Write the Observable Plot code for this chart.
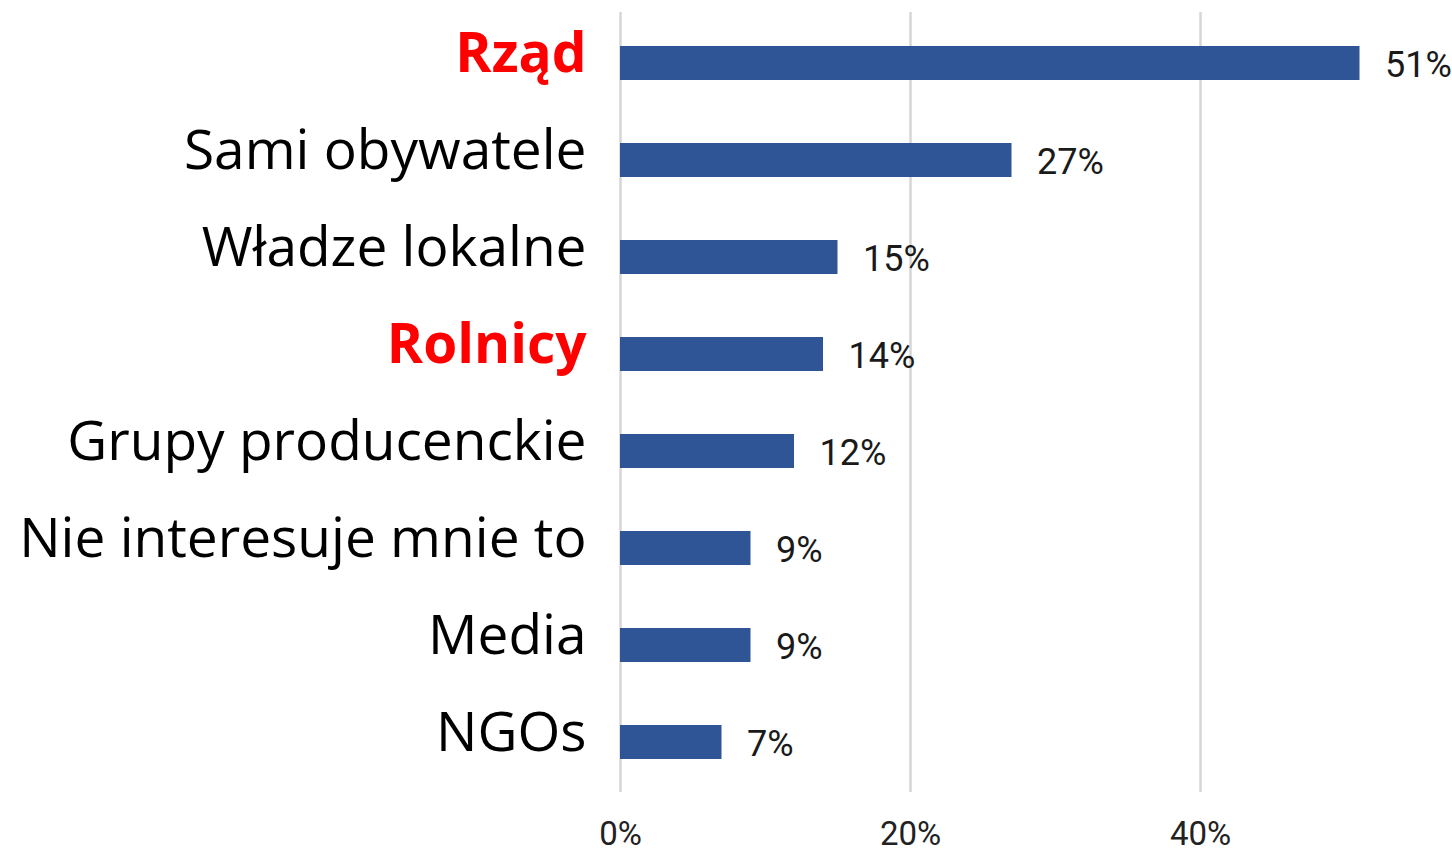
<!DOCTYPE html>
<html>
<head>
<meta charset="utf-8">
<script src="https://cdn.jsdelivr.net/npm/d3@7"></script>
<script src="https://cdn.jsdelivr.net/npm/@observablehq/plot@0.6"></script>
<style>
  html, body { margin: 0; padding: 0; background: #fff; }
  #chart svg { display: block; overflow: visible; }
</style>
</head>
<body>
<div id="chart"></div>
<script>
const categories = ["Rząd", "Sami obywatele", "Władze lokalne", "Rolnicy", "Grupy producenckie", "Nie interesuje mnie to", "Media", "NGOs"];
const values = [51, 27, 15, 14, 12, 9, 9, 7];
const highlighted = ["Rząd", "Rolnicy"];
const xTicks = [0, 20, 40];

const data = categories.map((c, i) => ({category: c, value: values[i]}));
const isHi = d => highlighted.includes(d.category);

const labelStyle = {x: 0, y: "category", text: "category", dx: -34, dy: -9,
  textAnchor: "end", fontSize: 55, fontFamily: "Open Sans"};

const chart = Plot.plot({
  width: 1452,
  height: 854,
  marginLeft: 620,
  marginRight: 34.5,
  marginTop: 12,
  marginBottom: 62,
  style: {background: "#fff"},
  x: {domain: [0, 55], ticks: xTicks, tickFormat: d => d + "%"},
  y: {domain: categories, paddingInner: 0.65, paddingOuter: 0.322, axis: null},
  marks: [
    Plot.gridX(xTicks, {stroke: "#d6d6d6", strokeOpacity: 1, strokeWidth: 2.5}),
    Plot.axisX({ticks: xTicks, tickFormat: d => d + "%", tickSize: 0, tickPadding: 29,
      fontSize: 33, fontFamily: "Roboto", fill: "#222", label: null}),
    Plot.barX(data, {x: "value", y: "category", fill: "#2F5597"}),
    Plot.text(data, {x: "value", y: "category", text: d => d.value + "%", dx: 25, dy: 2,
      textAnchor: "start", fontSize: 36, fontFamily: "Roboto", fill: "#1a1a1a"}),
    Plot.text(data, Plot.filter(d => !isHi(d), {...labelStyle, fill: "#000"})),
    Plot.text(data, Plot.filter(isHi, {...labelStyle, fill: "#ff0000", fontWeight: "bold"}))
  ]
});
document.getElementById("chart").appendChild(chart);
</script>
</body>
</html>
